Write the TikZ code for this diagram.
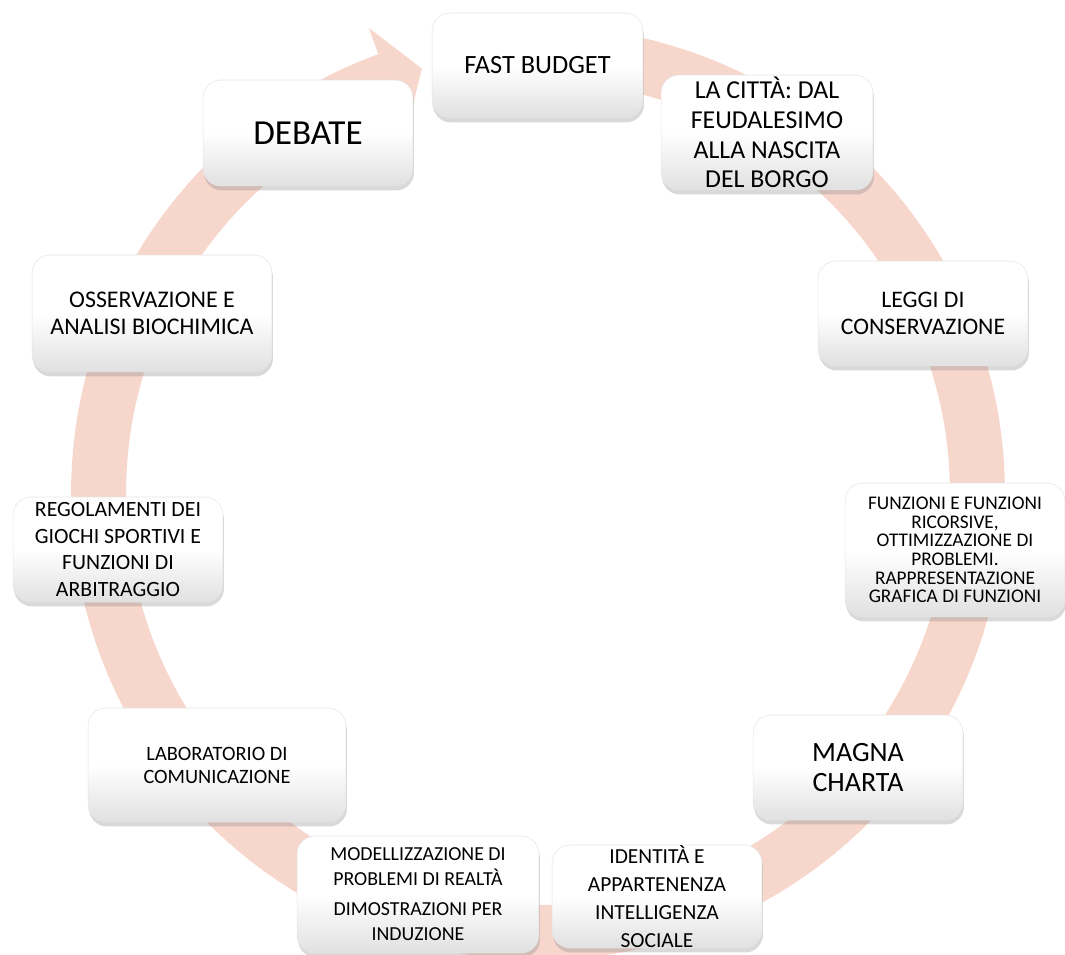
\documentclass[tikz,border=0pt]{standalone}
\usepackage{fontspec}
\setmainfont{Carlito}
\usepackage{tikz}
\usetikzlibrary{shadows}
\definecolor{ringpink}{RGB}{247,214,204}
\tikzstyle{block} = [rectangle, rounded corners=0.36cm, draw=black!10, line width=0.3pt, top color=white, bottom color=black!12, middle color=white, drop shadow={shadow xshift=0.02cm, shadow yshift=-0.09cm, opacity=0.3}, align=center, inner sep=0pt]

\begin{document}
\begin{tikzpicture}[x=0.02cm, y=-0.02cm]
   \useasboundingbox (0,0) rectangle (1065,955);
   % Ring with arrow head
   \fill[ringpink] plot[domain=0:330, samples=150] ({538+467*cos(80-\x)}, {493-467*sin(80-\x)})
      -- ({538+495*cos(110)}, {493-495*sin(110)})
      -- ({538+440*cos(105.3)}, {493-440*sin(105.3)})
      -- ({538+385*cos(110)}, {493-385*sin(110)})
      -- plot[domain=330:0, samples=150] ({538+412*cos(80-\x)}, {493-412*sin(80-\x)}) -- cycle;
   % Place nodes
   \node [block, minimum width=4.22cm, minimum height=2.10cm, font=\fontsize{15}{17}\selectfont] (1) at (537.5,65.5) {FAST BUDGET};
   \node [block, minimum width=4.24cm, minimum height=2.30cm, font=\fontsize{14.7}{17}\selectfont] (2) at (767,132.5) {LA CITTÀ: DAL \\ FEUDALESIMO \\ ALLA NASCITA \\ DEL BORGO};
   \node [block, minimum width=4.20cm, minimum height=2.10cm, font=\fontsize{13.5}{15.4}\selectfont] (3) at (923,313.5) {LEGGI DI \\ CONSERVAZIONE};
   \node [block, minimum width=4.40cm, minimum height=2.68cm, font=\fontsize{11}{10.6}\selectfont] (4) at (955,550) {FUNZIONI E FUNZIONI \\ RICORSIVE, \\ OTTIMIZZAZIONE DI \\ PROBLEMI. \\ RAPPRESENTAZIONE \\ GRAFICA DI FUNZIONI};
   \node [block, minimum width=4.20cm, minimum height=2.10cm, font=\fontsize{15.9}{17}\selectfont] (5) at (858,767.5) {MAGNA \\ CHARTA};
   \node [block, minimum width=4.20cm, minimum height=2.06cm, font=\fontsize{12.2}{15.8}\selectfont] (6) at (657,896.5) {IDENTITÀ E \\ APPARTENENZA \\ INTELLIGENZA \\ SOCIALE};
   \node [block, minimum width=4.84cm, minimum height=2.34cm, font=\fontsize{11.3}{14.2}\selectfont] (7) at (418,894.5) {MODELLIZZAZIONE DI \\ PROBLEMI DI REALTÀ \\[2.8pt] DIMOSTRAZIONI PER \\ INDUZIONE};
   \node [block, minimum width=5.16cm, minimum height=2.28cm, font=\fontsize{11.6}{13.1}\selectfont] (8) at (217,765) {LABORATORIO DI \\ COMUNICAZIONE};
   \node [block, minimum width=4.20cm, minimum height=2.10cm, font=\fontsize{12.4}{15.2}\selectfont] (9) at (118,549.5) {REGOLAMENTI DEI \\ GIOCHI SPORTIVI E \\ FUNZIONI DI \\ ARBITRAGGIO};
   \node [block, minimum width=4.80cm, minimum height=2.34cm, font=\fontsize{13.6}{15.4}\selectfont] (10) at (152,313.5) {OSSERVAZIONE E \\ ANALISI BIOCHIMICA};
   \node [block, minimum width=4.20cm, minimum height=2.12cm, font=\fontsize{20}{24}\selectfont] (11) at (308,133) {DEBATE};
\end{tikzpicture}
\end{document}
